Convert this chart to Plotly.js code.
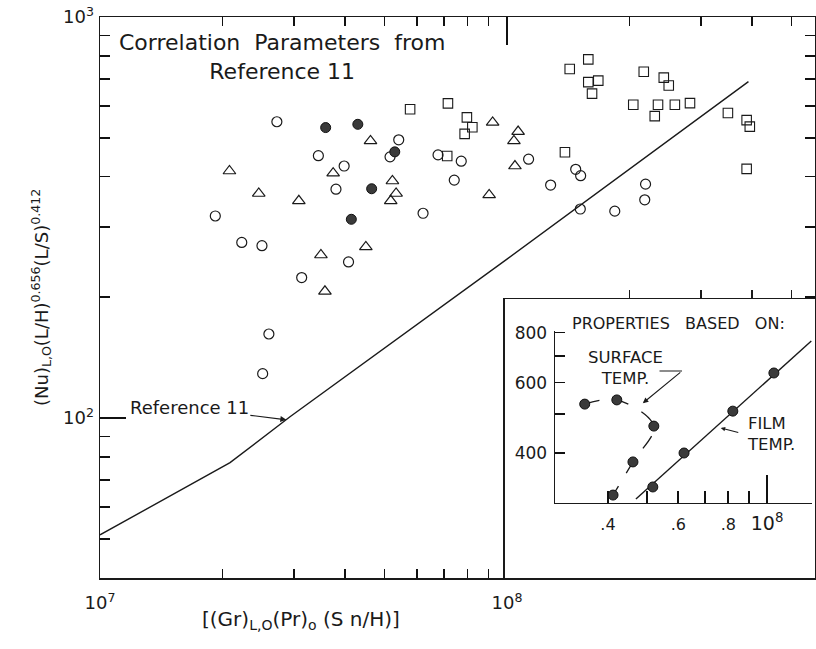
<!DOCTYPE html>
<html><head><meta charset="utf-8">
<script src="https://cdn.plot.ly/plotly-3.0.1.min.js"></script>
<style>html,body{margin:0;padding:0;background:#fff;} #chart{width:816px;height:649px;}</style>
</head><body><div id="chart"></div>
<script>
// ---------- main plot data ----------
const openCircleX = [2.72e7, 3.44e7, 3.98e7, 3.80e7, 1.92e7, 2.23e7, 2.50e7, 4.08e7, 3.13e7, 2.60e7, 2.51e7, 5.42e7, 5.16e7, 6.77e7, 7.72e7, 7.42e7, 6.22e7, 1.13e8, 1.28e8, 1.475e8, 1.517e8, 1.514e8, 1.84e8, 2.19e8, 2.18e8];
const openCircleY = [548, 451, 425, 372, 319, 274, 269, 245, 224, 162, 129, 494, 448, 453, 437, 392, 324, 442, 381, 417, 402, 332, 328, 383, 350];
const filledCircleX = [3.585e7, 4.30e7, 4.65e7, 4.145e7, 5.30e7];
const filledCircleY = [530, 540, 373, 313, 461];
const triangleX = [4.62e7, 2.08e7, 3.74e7, 2.455e7, 3.08e7, 3.49e7, 3.57e7, 4.50e7, 9.22e7, 1.065e8, 1.04e8, 5.23e7, 5.34e7, 5.18e7, 1.046e8, 9.04e7];
const triangleY = [491, 413, 408, 363, 348, 255, 207, 267, 546, 518, 491, 390, 363, 348, 425, 360];
const squareX = [5.78e7, 7.16e7, 7.97e7, 8.22e7, 7.87e7, 7.13e7, 1.388e8, 1.426e8, 1.584e8, 1.584e8, 1.676e8, 1.618e8, 2.168e8, 2.428e8, 2.497e8, 2.043e8, 2.35e8, 2.585e8, 2.816e8, 2.307e8, 3.49e8, 3.88e8, 3.95e8, 3.88e8];
const squareY = [589, 609, 562, 531, 511, 450, 460, 742, 784, 688, 694, 644, 730, 706, 675, 604, 604, 604, 610, 566, 576, 553, 533, 418];
const ref11X = [1e7, 1.633e7, 2.087e7, 2.93e7, 1e8, 3.92e8];
const ref11Y = [51.1, 67.4, 77.4, 100.7, 249, 690];

// ---------- inset data ----------
const surfaceX = [3.50e7, 4.21e7, 5.21e7, 4.62e7, 4.12e7];
const surfaceY = [530, 543, 467, 380, 314];
const filmX = [5.18e7, 6.2e7, 8.21e7, 1.04e8];
const filmY = [329, 400, 509, 634];
const filmLineX = [4.7e7, 1.29e8];
const filmLineY = [307, 762];

// ---------- ticks ----------
const mainXMajor = [1e7, 1e8];
const mainXMajorText = ['10<sup>7</sup>', '10<sup>8</sup>'];
const mainXMinor = [2e7, 3e7, 4e7, 5e7, 6e7, 7e7, 8e7, 9e7, 2e8, 3e8, 4e8, 5e8];
const mainXLong = [1e8];
const mainYMajor = [100, 1000];
const mainYMajorText = ['10<sup>2</sup>', '10<sup>3</sup>'];
const mainYMinor = [50, 60, 70, 80, 90, 200, 300, 400, 500, 600, 700, 800, 900];
const mainYLong = [100];
const frameTopTicks = [2e8, 3e8, 4e8, 5e8];
const insetXLabelVals = [4e7, 6e7, 8e7, 1e8];
const insetXLabels = ['.4', '.6', '.8', '<span style="font-size:19px">10<sup>8</sup></span>'];
const insetXMinor = [4e7, 5e7, 6e7, 7e7, 8e7, 9e7];
const insetXLong = [1e8];
const insetYLabelVals = [400, 600, 800];
const insetYLabels = ['400', '600', '800'];
const insetYMinor = [400, 500, 600, 700, 800];

const FONT = 'DejaVu Sans';
const INK = '#1a1a1a';
const L = Math.log10;

const filledMarker = () => ({symbol: 'circle', size: 10, color: '#3a3a3a', line: {color: '#111', width: 1}});
const empty = (xa, ya) => ({x: [], y: [], xaxis: xa, yaxis: ya, mode: 'markers', hoverinfo: 'skip'});

const traces = [
  {x: ref11X, y: ref11Y, mode: 'lines', line: {color: INK, width: 1.4}, xaxis: 'x', yaxis: 'y'},
  {x: openCircleX, y: openCircleY, mode: 'markers', marker: {symbol: 'circle-open', size: 10, color: INK, line: {width: 1.2}}, xaxis: 'x', yaxis: 'y'},
  {x: triangleX, y: triangleY, mode: 'markers', marker: {symbol: 'triangle-up-open', size: 11, color: INK, line: {width: 1.2}}, xaxis: 'x', yaxis: 'y'},
  {x: squareX, y: squareY, mode: 'markers', marker: {symbol: 'square-open', size: 9.5, color: INK, line: {width: 1.1}}, xaxis: 'x', yaxis: 'y'},
  {x: filledCircleX, y: filledCircleY, mode: 'markers', marker: filledMarker(), xaxis: 'x', yaxis: 'y'},
  empty('x5', 'y'), empty('x6', 'y'), empty('x', 'y5'), empty('x', 'y6'),
  empty('x2', 'y2'),
  {x: surfaceX, y: surfaceY, mode: 'lines', line: {color: INK, width: 1.3, dash: 'longdash', shape: 'spline', smoothing: 1}, xaxis: 'x3', yaxis: 'y3'},
  {x: filmLineX, y: filmLineY, mode: 'lines', line: {color: INK, width: 1.4}, xaxis: 'x3', yaxis: 'y3'},
  {x: surfaceX, y: surfaceY, mode: 'markers', marker: filledMarker(), xaxis: 'x3', yaxis: 'y3'},
  {x: filmX, y: filmY, mode: 'markers', marker: filledMarker(), xaxis: 'x3', yaxis: 'y3'},
  empty('x4', 'y3'), empty('x7', 'y3'), empty('x3', 'y4')
];

const axBase = {showgrid: false, zeroline: false, linecolor: INK, tickcolor: INK, linewidth: 1.5};
const MAINX = [7, 8.7568];
const MAINY = [1.601, 3];
const INX = [L(2.95e7), L(2.95e7) + 257 / 400];
const INY = [L(300), L(805)];
const tickAxis = (over, anchor, range, vals, len, mirror) => Object.assign({}, axBase, {
  type: 'log', range: range, overlaying: over, anchor: anchor,
  showline: false, mirror: mirror ? 'ticks' : false, ticks: 'inside', ticklen: len, tickwidth: 1.7,
  tickcolor: '#111', tickmode: 'array', tickvals: vals, showticklabels: false
});

const layout = {
  width: 816, height: 649,
  margin: {l: 100, r: 1, t: 17, b: 71, pad: 0},
  paper_bgcolor: '#fff', plot_bgcolor: '#fff',
  showlegend: false,
  font: {family: FONT, color: INK, size: 16},
  xaxis: Object.assign({}, axBase, {
    type: 'log', range: MAINX, domain: [0, 1], anchor: 'y',
    showline: true, mirror: true, ticks: '',
    tickmode: 'array', tickvals: mainXMajor, ticktext: mainXMajorText, tickfont: {size: 18, family: FONT},
    ticklabelstandoff: 8
  }),
  xaxis5: tickAxis('x', 'y', MAINX, mainXMinor, 9, true),
  xaxis6: tickAxis('x', 'y', MAINX, mainXLong, 28, true),
  yaxis: Object.assign({}, axBase, {
    type: 'log', range: MAINY, domain: [0, 1], anchor: 'x',
    showline: true, mirror: true, ticks: '',
    tickmode: 'array', tickvals: mainYMajor, ticktext: mainYMajorText, tickfont: {size: 18, family: FONT},
    ticklabelstandoff: 1
  }),
  yaxis5: tickAxis('y', 'x', MAINY, mainYMinor, 10, true),
  yaxis6: tickAxis('y', 'x', MAINY, mainYLong, 26, true),
  xaxis2: Object.assign({}, axBase, {
    type: 'log', range: [7.99509, 8.75676], domain: [0.5664, 1], anchor: 'y2', side: 'top',
    showline: true, mirror: true, ticks: 'outside', ticklen: 8, tickwidth: 1.5,
    tickmode: 'array', tickvals: frameTopTicks, showticklabels: false
  }),
  yaxis2: Object.assign({}, axBase, {
    range: [0, 1], domain: [0, 0.4973], anchor: 'x2',
    showline: true, mirror: true, ticks: '', showticklabels: false
  }),
  xaxis3: Object.assign({}, axBase, {
    type: 'log', range: INX, domain: [0.6364, 0.9958], anchor: 'y3',
    showline: true, ticks: '',
    tickmode: 'array', tickvals: insetXLabelVals, ticktext: insetXLabels, tickfont: {size: 16, family: FONT},
    ticklabelstandoff: 6
  }),
  xaxis4: tickAxis('x3', 'y3', INX, insetXMinor, 12, false),
  xaxis7: tickAxis('x3', 'y3', INX, insetXLong, 28, false),
  yaxis3: Object.assign({}, axBase, {
    type: 'log', range: INY, domain: [0.1337, 0.4394], anchor: 'x3',
    showline: true, ticks: '',
    tickmode: 'array', tickvals: insetYLabelVals, ticktext: insetYLabels, tickfont: {size: 17, family: FONT},
    ticklabelstandoff: 3
  }),
  yaxis4: tickAxis('y3', 'x3', INY, insetYMinor, 10, false),
  annotations: [
    {xref: 'paper', yref: 'paper', x: 0.2545, y: 0.9287, xanchor: 'center', yanchor: 'middle',
     text: 'Correlation  Parameters  from<br>Reference 11', align: 'center', showarrow: false,
     font: {size: 22, family: FONT, color: INK}},
    {xref: 'x', yref: 'y', x: L(2.87e7), y: L(99), text: 'Reference 11', showarrow: true,
     ax: -97, ay: -12, arrowhead: 2, arrowsize: 1, arrowwidth: 1.2, arrowcolor: INK,
     font: {size: 18, family: FONT, color: INK}},
    {xref: 'paper', yref: 'paper', x: -0.0825, y: 0.4991, xanchor: 'center', yanchor: 'middle', textangle: -90,
     text: '(Nu)<sub>L,O</sub>(L/H)<sup>0.656</sup>(L/S)<sup>0.412</sup>', showarrow: false,
     font: {size: 18, family: FONT, color: INK}},
    {xref: 'paper', yref: 'paper', x: 0.2818, y: -0.0749, xanchor: 'center', yanchor: 'middle',
     text: '[(Gr)<sub>L,O</sub>(Pr)<sub>o</sub> (S n/H)]', showarrow: false,
     font: {size: 20, family: FONT, color: INK}},
    {xref: 'paper', yref: 'paper', x: 0.8084, y: 0.4545, xanchor: 'center', yanchor: 'middle',
     text: 'PROPERTIES   BASED   ON:', showarrow: false, font: {size: 16, family: FONT, color: INK}},
    {xref: 'paper', yref: 'paper', x: 0.7343, y: 0.3743, xanchor: 'center', yanchor: 'middle',
     text: 'SURFACE<br>TEMP.', align: 'center', showarrow: false, font: {size: 16.5, family: FONT, color: INK}},
    {xref: 'x3', yref: 'y3', x: L(4.89e7), y: L(533), text: '', showarrow: true,
     ax: 39, ay: -32, arrowhead: 2, arrowsize: 1, arrowwidth: 1.1, arrowcolor: INK},
    {xref: 'paper', yref: 'paper', x: 0.814, y: 0.369, text: '', showarrow: true,
     ax: -24, ay: 0, arrowhead: 0, arrowwidth: 1.1, arrowcolor: INK},
    {xref: 'paper', yref: 'paper', x: 0.9021, y: 0.2567, xanchor: 'left', yanchor: 'middle',
     text: 'FILM<br>TEMP.', align: 'left', showarrow: false, font: {size: 16.5, family: FONT, color: INK}},
    {xref: 'x3', yref: 'y3', x: L(7.66e7), y: L(462), text: '', showarrow: true,
     ax: 19, ay: 5, arrowhead: 2, arrowsize: 0.8, arrowwidth: 1.1, arrowcolor: INK}
  ]
};

Plotly.newPlot('chart', traces, layout, {displayModeBar: false, staticPlot: true});
</script>
</body></html>
